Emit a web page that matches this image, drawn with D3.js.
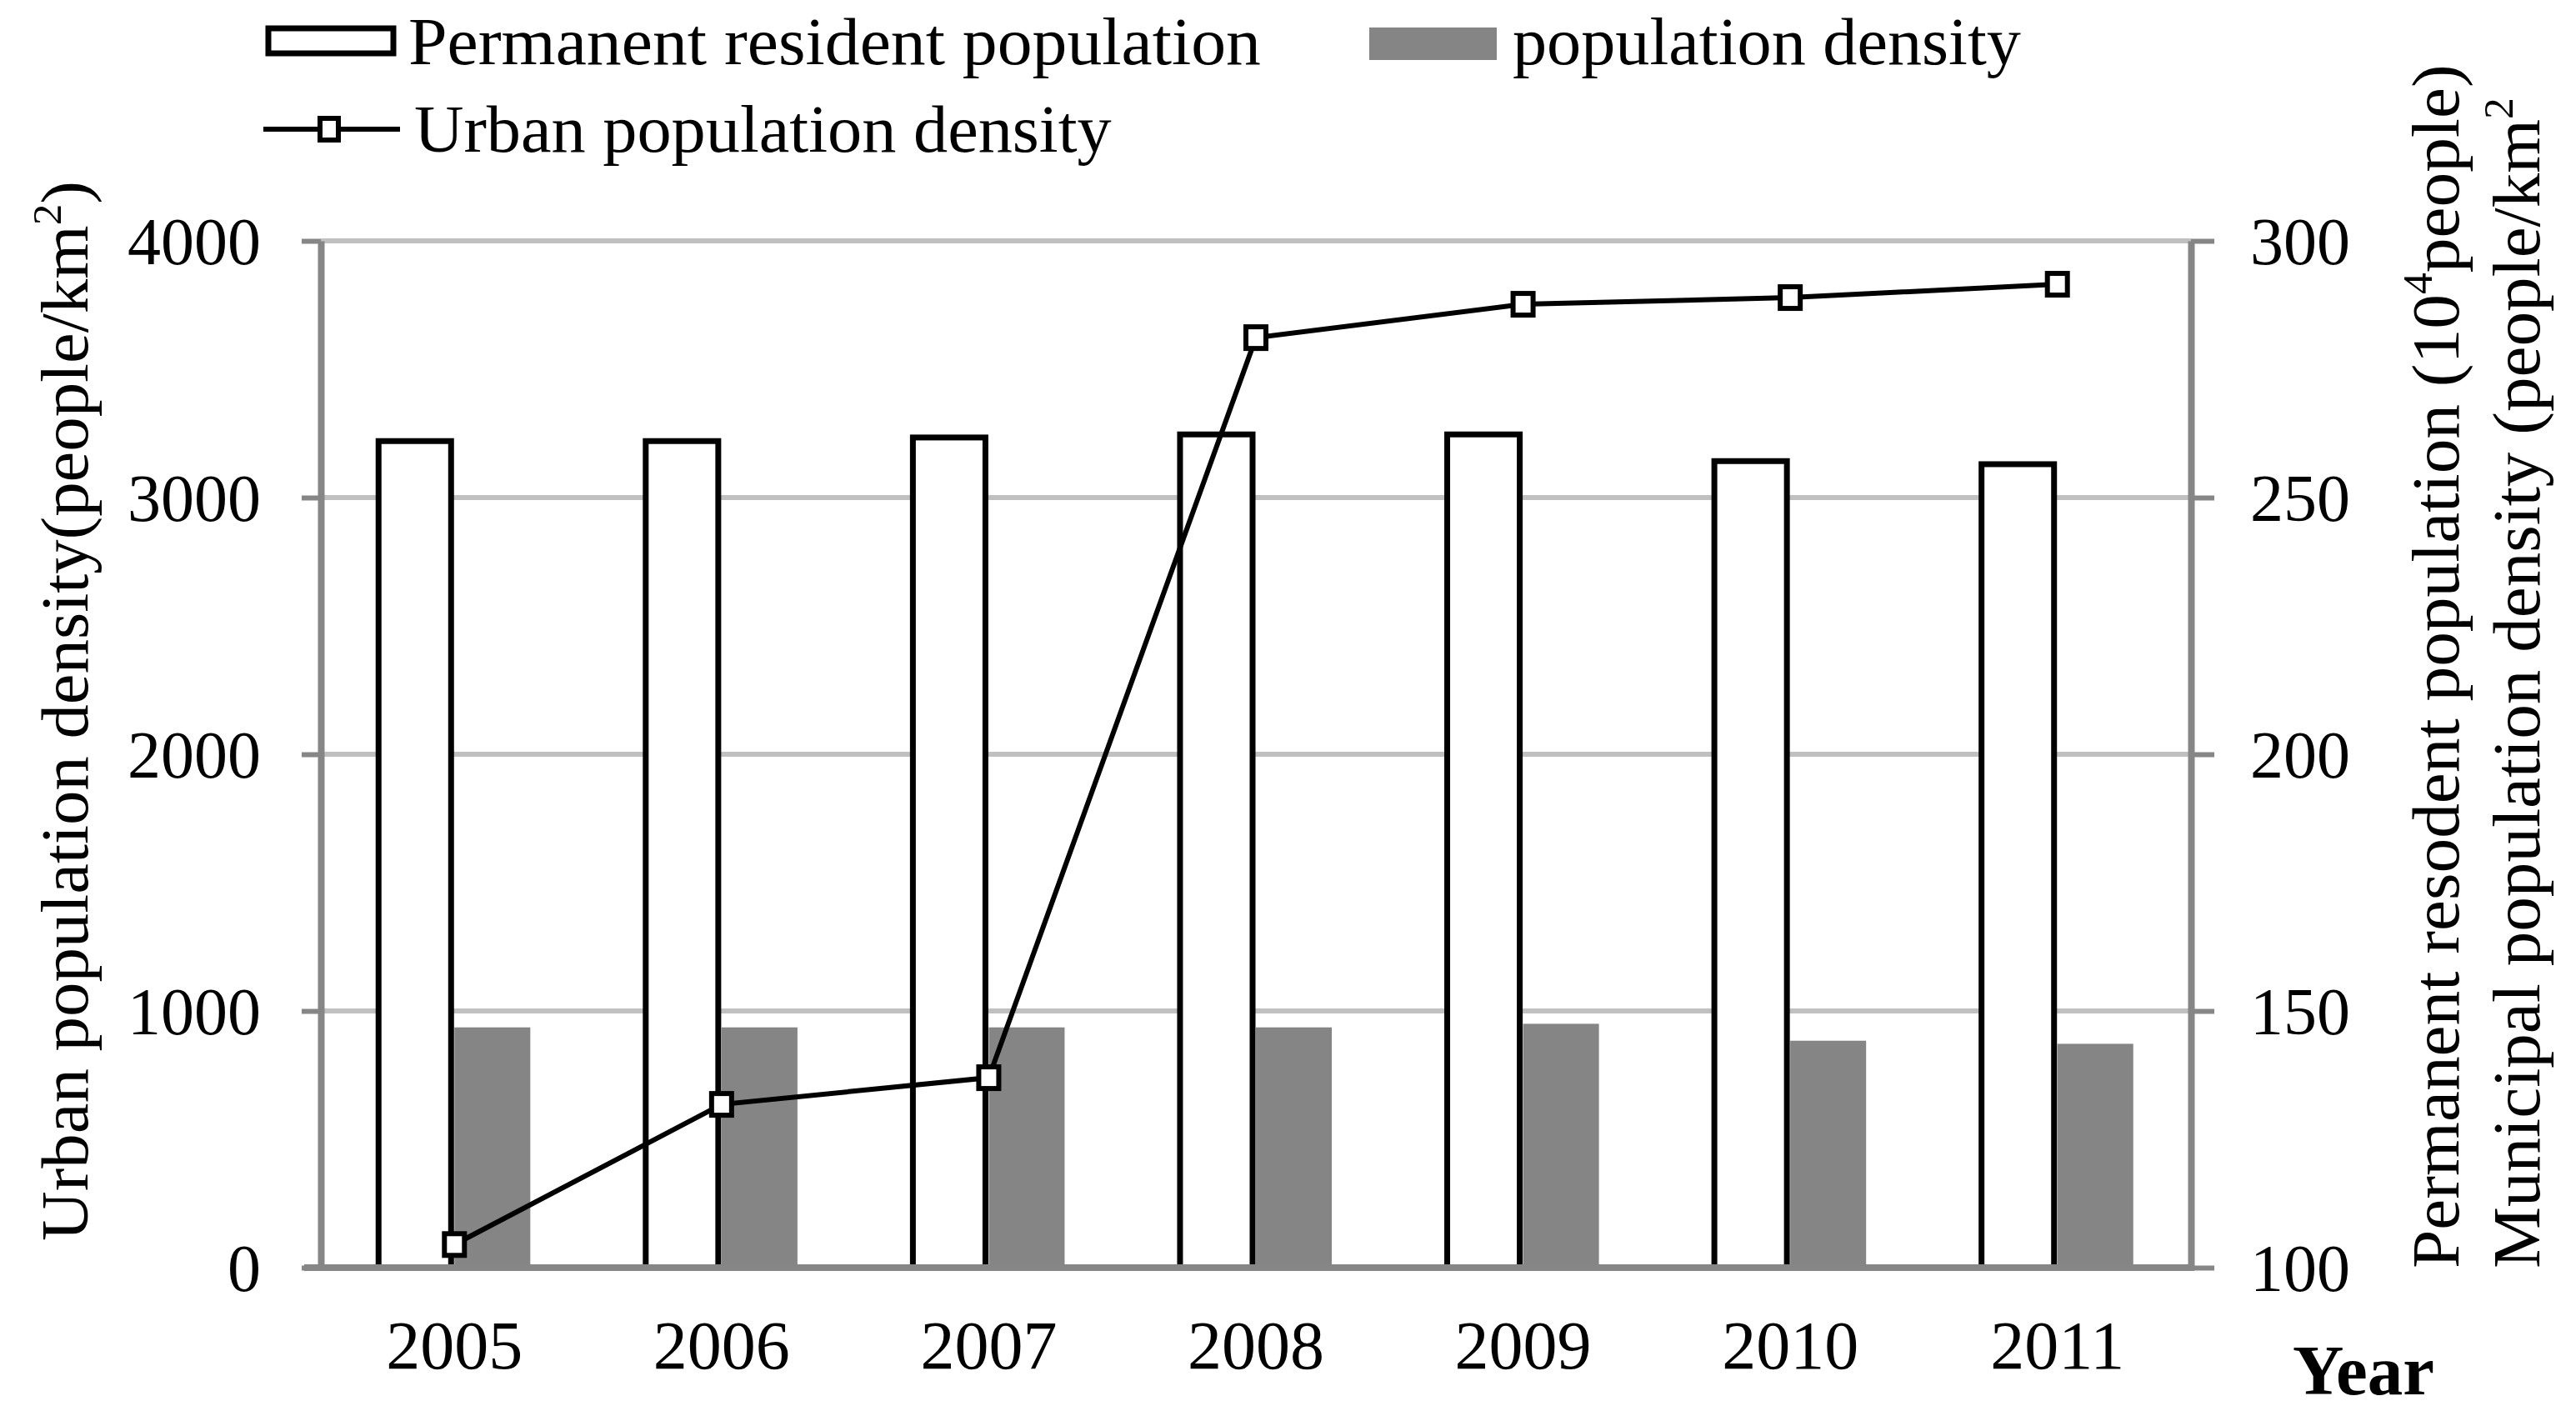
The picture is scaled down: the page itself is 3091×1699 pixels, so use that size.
<!DOCTYPE html>
<html>
<head>
<meta charset="utf-8">
<script src="https://cdn.jsdelivr.net/npm/d3@7"></script>
<style>
  body { margin: 0; background: #fff; }
  text { font-family: "Liberation Serif", "Times New Roman", serif; fill: #000; }
</style>
</head>
<body>
<svg id="chart" width="3091" height="1699"></svg>
<script>
// data
const years = ["2005", "2006", "2007", "2008", "2009", "2010", "2011"];
const residentPop = [261.0, 261.0, 261.7, 262.3, 262.3, 257.1, 256.5];   // 10^4 people, right axis
const popDensity = [146.8, 146.8, 146.8, 146.8, 147.5, 144.2, 143.6];    // people/km2, right axis
const urbanDensity = [90, 636, 740, 3623, 3753, 3779, 3831];            // people/km2, left axis
const leftTicks = [0, 1000, 2000, 3000, 4000];
const rightTicks = [100, 150, 200, 250, 300];

const svg = d3.select("#chart");
const plotL = 385, plotR = 2629, plotT = 289, plotB = 1521;
const axisGrey = "#868686", gridGrey = "#c0c0c0", barGrey = "#858585";

const x = d3.scaleBand().domain(years).range([plotL, plotR]);
const yL = d3.scaleLinear().domain([0, 4000]).range([plotB, plotT]);
const yR = d3.scaleLinear().domain([100, 300]).range([plotB, plotT]);
const barW = x.bandwidth() * 0.284;
const cx = d => x(d) + x.bandwidth() / 2;

// text helper: parts = [[string, isSup], ...]; stretched to len if given
function label(g, tx, ty, rot, size, parts, len, opts = {}) {
  const grp = g.append("g").attr("transform", `translate(${tx},${ty}) rotate(${rot})`);
  const t = grp.append("text")
    .attr("font-size", size)
    .attr("font-weight", opts.bold ? "bold" : null)
    .attr("text-anchor", opts.anchor || "start");
  let back = 0;
  parts.forEach(([s, sup]) => {
    const ts = t.append("tspan").text(s);
    if (sup) {
      ts.attr("font-size", size * 0.62).attr("dy", -size * 0.4);
      back = size * 0.4;
    } else if (back) {
      ts.attr("dy", back);
      back = 0;
    }
  });
  if (len) {
    const w = t.node().getBBox().width;
    t.attr("transform", `scale(${len / w},1)`);
  }
  return t;
}

// gridlines
svg.append("g").selectAll("line").data(leftTicks.filter(d => d > 0)).join("line")
  .attr("x1", plotL).attr("x2", plotR)
  .attr("y1", d => yL(d)).attr("y2", d => yL(d))
  .attr("stroke", gridGrey).attr("stroke-width", 6);

// population density bars (grey)
svg.append("g").selectAll("rect").data(years).join("rect")
  .attr("x", d => cx(d))
  .attr("width", barW)
  .attr("y", (d, i) => yR(popDensity[i]))
  .attr("height", (d, i) => plotB - yR(popDensity[i]))
  .attr("fill", barGrey);

// permanent resident population bars (white, outlined)
svg.append("g").selectAll("rect").data(years).join("rect")
  .attr("x", d => cx(d) - barW)
  .attr("width", barW - 4)
  .attr("y", (d, i) => yR(residentPop[i]))
  .attr("height", (d, i) => plotB - yR(residentPop[i]))
  .attr("fill", "#fff").attr("stroke", "#000").attr("stroke-width", 7);

// axes
const axL = svg.append("g").attr("transform", `translate(${plotL},0)`)
  .call(d3.axisLeft(yL).tickValues(leftTicks).tickFormat(d3.format("d"))
    .tickSizeInner(23).tickSizeOuter(0).tickPadding(49));
const axR = svg.append("g").attr("transform", `translate(${plotR},0)`)
  .call(d3.axisRight(yR).tickValues(rightTicks).tickFormat(d3.format("d"))
    .tickSizeInner(28).tickSizeOuter(0).tickPadding(43));
const axB = svg.append("g").attr("transform", `translate(0,${plotB})`)
  .call(d3.axisBottom(x).tickSize(0).tickPadding(0));

[axL, axR, axB].forEach(a => {
  a.select(".domain").attr("stroke", axisGrey).attr("stroke-width", 8);
  a.selectAll(".tick line").attr("stroke", axisGrey).attr("stroke-width", 6);
  a.selectAll(".tick text")
    .attr("font-family", "'Liberation Serif', 'Times New Roman', serif")
    .attr("fill", "#000");
});
axL.selectAll(".tick text").attr("font-size", 80).attr("dy", "0.34em");
axR.selectAll(".tick text").attr("font-size", 80).attr("dy", "0.34em");
axB.selectAll(".tick text").attr("font-size", 82).attr("y", 121).attr("dy", 0);
axB.select(".domain").attr("d", `M${plotL - 20},0H${plotR + 4}`);

// urban population density line
const line = d3.line().x(d => cx(d.year)).y(d => yL(d.v));
const pts = years.map((year, i) => ({ year, v: urbanDensity[i] }));
svg.append("path").datum(pts)
  .attr("d", line).attr("fill", "none")
  .attr("stroke", "#000").attr("stroke-width", 6);
svg.append("g").selectAll("rect").data(pts).join("rect")
  .attr("x", d => cx(d.year) - 12).attr("y", d => yL(d.v) - 13)
  .attr("width", 24).attr("height", 26)
  .attr("fill", "#fff").attr("stroke", "#000").attr("stroke-width", 6);

// axis titles
label(svg, 105, 1489, -90, 80, [["Urban population density(people/km"], ["2", true], [")"]], 1272);
label(svg, 2950, 1522, -90, 80, [["Permanent resodent population (10"], ["4", true], ["people)"]], 1445);
label(svg, 3047, 1522, -90, 80, [["Municipal population density (people/km"], ["2", true]], 1405);
label(svg, 2751, 1673, 0, 84, [["Year"]], 170, { bold: true });

// legend
const lg = svg.append("g");
lg.append("rect").attr("x", 322).attr("y", 34).attr("width", 150).attr("height", 30)
  .attr("fill", "#fff").attr("stroke", "#000").attr("stroke-width", 7);
label(lg, 490, 77, 0, 80, [["Permanent resident population"]], 1023);
lg.append("rect").attr("x", 1643).attr("y", 33).attr("width", 153).attr("height", 39)
  .attr("fill", barGrey);
label(lg, 1815, 77, 0, 80, [["population density"]], 610);
lg.append("line").attr("x1", 316).attr("x2", 480).attr("y1", 155).attr("y2", 155)
  .attr("stroke", "#000").attr("stroke-width", 6);
lg.append("rect").attr("x", 384).attr("y", 142).attr("width", 22).attr("height", 26)
  .attr("fill", "#fff").attr("stroke", "#000").attr("stroke-width", 6);
label(lg, 497, 182, 0, 80, [["Urban population density"]], 837);
</script>
</body>
</html>
